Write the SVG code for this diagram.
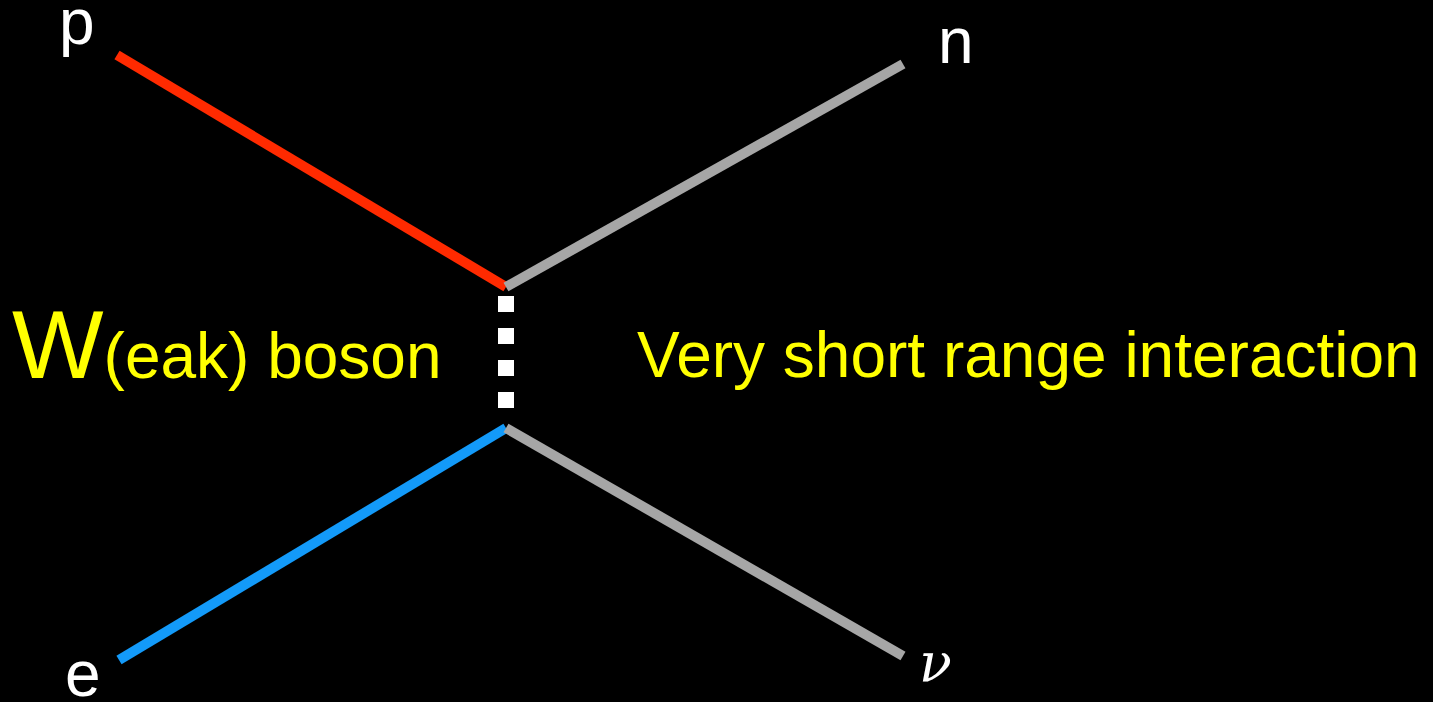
<svg xmlns="http://www.w3.org/2000/svg" width="1433" height="702" viewBox="0 0 1433 702">
<style>
.line{stroke-width:10;fill:none;stroke-linecap:butt}
.lbl{font-family:"Liberation Sans",Arial,sans-serif;fill:#ffffff;font-size:64px}
.ylw{font-family:"Liberation Sans",Arial,sans-serif;fill:#ffff00;font-size:64px}
</style>
<rect width="1433" height="702" fill="#000000"/>
<g id="connectors">
<line class="line" x1="117" y1="55" x2="506" y2="287" stroke="#ff2a00"/>
<line class="line" x1="506" y1="287" x2="903" y2="64" stroke="#a6a6a6"/>
<line class="line" x1="119" y1="660" x2="506" y2="428" stroke="#139af9"/>
<line class="line" x1="506" y1="428" x2="903" y2="656" stroke="#a6a6a6"/>
<line x1="506" y1="296" x2="506" y2="408" stroke="#ffffff" stroke-width="16" stroke-dasharray="16 16"/>
</g>
<g id="node-p"><text class="lbl" x="59" y="44">p</text></g>
<g id="node-n"><text class="lbl" x="938" y="63">n</text></g>
<g id="node-e"><text class="lbl" x="65" y="696">e</text></g>
<g id="node-nu"><text x="919" y="681" font-family="DejaVu Serif,serif" font-style="italic" font-size="54" fill="#ffffff">ν</text></g>
<g id="label-w"><text class="ylw" x="12" y="378"><tspan font-size="97">W</tspan>(eak) boson</text></g>
<g id="label-range"><text class="ylw" x="637" y="377">Very short range interaction</text></g>
</svg>
